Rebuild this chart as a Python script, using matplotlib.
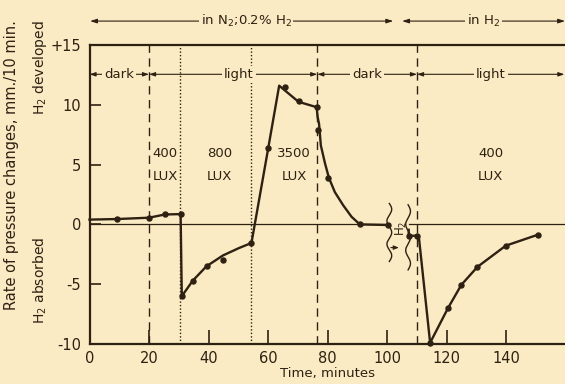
import numpy as np
import matplotlib
matplotlib.use("Agg")
import matplotlib.pyplot as plt

# ---- data ----
line_x = [0, 9.4, 20, 25.3, 30.6, 31.0, 34.7, 39.3, 44.8, 50.0, 54.4, 59.8, 63.7,
          70.2, 76.3, 76.6, 77.1, 77.7, 79.1, 80.4, 82.4, 85.2, 88.0, 90.8, 100.2]
line_y = [0.4, 0.45, 0.56, 0.83, 0.86, -6.0, -4.7, -3.5, -2.6, -2.0, -1.55, 6.05, 11.6,
          10.25, 9.8, 9.0, 8.4, 6.6, 5.1, 3.9, 2.7, 1.6, 0.64, 0.0, -0.05]
line2_x = [107.2, 107.2, 110.0, 110.6, 114.4, 120.4, 124.9, 130.3, 139.8, 150.5]
line2_y = [-0.45, -0.95, -0.95, -1.0, -9.9, -7.0, -5.05, -3.55, -1.78, -0.87]

pt_x = [9.4, 20, 25.3, 30.6, 31.0, 34.7, 39.3, 44.8, 54.4, 59.8, 65.6, 70.2, 76.3,
        76.6, 80.0, 90.7, 100.2, 107.2, 110.0, 114.4, 120.4, 124.9, 130.3, 139.8, 150.5]
pt_y = [0.45, 0.56, 0.83, 0.86, -6.0, -4.7, -3.5, -3.0, -1.55, 6.4, 11.5, 10.3, 9.8,
        7.9, 3.9, 0.0, -0.05, -0.95, -0.95, -9.9, -7.0, -5.05, -3.55, -1.78, -0.87]

dashed_x = [20, 76.5, 110]
dotted_x = [30.3, 54.4]

xticks = [0, 20, 40, 60, 80, 100, 120, 140]
yticks = [-10, -5, 0, 5, 10, 15]
ytick_labels = ["-10", "-5", "0", "5", "10", "+15"]

periods = [(0, 20, "dark"), (20, 76.5, "light"), (76.5, 110, "dark"), (110, 159.5, "light")]
lux_x = [25.4, 43.7, 68.7, 134.8]
lux_lbl = ["400", "800", "3500", "400"]

BG = "#FAEBC4"
INK = "#2E2112"

plt.rcParams['font.family'] = ['DejaVu Sans']
fig = plt.figure(figsize=(5.65, 3.84), dpi=100, facecolor=BG)
ax = fig.add_axes([89.5/565, 1-344/384, 1-89.5/565, 299/384], facecolor=BG)
ax.set_xlim(0, 159.7)
ax.set_ylim(-10, 15)

for s in ["left", "bottom", "top"]:
    ax.spines[s].set_color(INK)
    ax.spines[s].set_linewidth(1.6)
ax.spines["right"].set_visible(False)

ax.set_xticks(xticks)
ax.set_yticks(yticks)
ax.set_yticklabels(ytick_labels)
ax.tick_params(axis='x', direction='in', length=10, width=1.2, colors=INK, labelsize=10.5, pad=5)
ax.tick_params(axis='y', direction='in', length=8, width=1.2, colors=INK, labelsize=10.5, pad=6)

# zero line (broken at the gas change)
ax.plot([0, 100.6], [0, 0], color=INK, lw=0.9)
ax.plot([107.2, 159.7], [0, 0], color=INK, lw=0.9)

for x in dashed_x:
    ax.axvline(x, color=INK, lw=1.0, ls=(0, (6, 4)))
for x in dotted_x:
    ax.axvline(x, color=INK, lw=1.0, ls=(0, (1, 1.5)))

ax.plot(line_x, line_y, color=INK, lw=1.7, solid_joinstyle='round', clip_on=False)
ax.plot(line2_x, line2_y, color=INK, lw=1.7, solid_joinstyle='round', clip_on=False)
ax.plot(pt_x, pt_y, 'o', color=INK, ms=3.6, clip_on=False)

# period labels inside the top
for x0, x1, lbl in periods:
    ax.annotate("", xy=(x0, 12.55), xytext=(x1, 12.55),
                arrowprops=dict(arrowstyle="<|-|>,head_length=0.35,head_width=0.12",
                                color=INK, lw=0.8, shrinkA=0, shrinkB=0))
    ax.text((x0 + x1) / 2 + (2 if lbl == "light" and x0 == 20 else 0), 12.55, lbl,
            ha='center', va='center', fontsize=9.5, color=INK,
            bbox=dict(facecolor=BG, edgecolor='none', pad=1.5))

# lux labels
for x, l in zip(lux_x, lux_lbl):
    ax.text(x, 5.9, l, ha='center', va='center', fontsize=9.5, color=INK)
    ax.text(x, 4.0, "LUX", ha='center', va='center', fontsize=9.5, color=INK)

# top gas labels
ytop = 17.0
for x0, x1, lbl in [(0.2, 102, r"in N$_2$;0.2% H$_2$"), (105, 159.7, r"in H$_2$")]:
    ax.annotate("", xy=(x0, ytop), xytext=(x1, ytop), annotation_clip=False,
                arrowprops=dict(arrowstyle="<|-|>,head_length=0.4,head_width=0.13",
                                color=INK, lw=0.8, shrinkA=0, shrinkB=0))
    ax.text((x0 + x1) / 2 + (1.5 if x0 < 1 else 0), ytop, lbl, ha='center', va='center',
            fontsize=9.5, color=INK, clip_on=False,
            bbox=dict(facecolor=BG, edgecolor='none', pad=1.0))

# wavy break symbols
t = np.linspace(0, 1, 200)
for xc, ya, yb in [(100.7, 1.75, -3.1), (107.0, 1.64, -3.8)]:
    yy = ya + (yb - ya) * t
    xx = xc + 0.8 * np.sin(2 * np.pi * 2.5 * t)
    ax.plot(xx, yy, color=INK, lw=1.0)
ax.text(104.8, -0.35, r"H$_2$", rotation=90, ha='center', va='center', fontsize=8.5, color=INK)
ax.annotate("", xy=(103.9, -1.94), xytext=(101.2, -1.94),
            arrowprops=dict(arrowstyle="-|>,head_length=0.3,head_width=0.12",
                            color=INK, lw=0.8, shrinkA=0, shrinkB=0))

# axis labels
ax.set_xlabel("Time, minutes", fontsize=9.5, color=INK, labelpad=1)
fig.text(12/565, 1-165/384, "Rate of pressure changes, mm./10 min.", rotation=90,
         ha='center', va='center', fontsize=10.5, color=INK)
fig.text(40/565, 1-68/384, r"H$_2$ developed", rotation=90,
         ha='center', va='center', fontsize=10, color=INK)
fig.text(40/565, 1-280/384, r"H$_2$ absorbed", rotation=90,
         ha='center', va='center', fontsize=10, color=INK)

fig.savefig("out.png", dpi=100, facecolor=BG)
